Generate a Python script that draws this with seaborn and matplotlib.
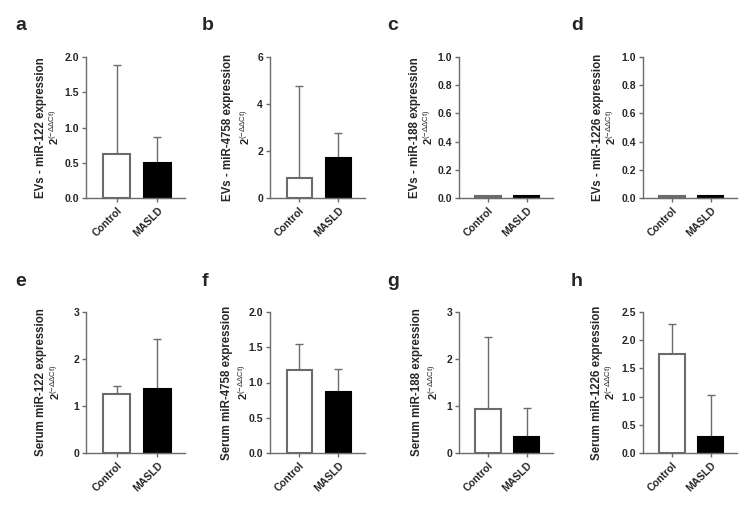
import numpy as np
import pandas as pd
import matplotlib
matplotlib.use('Agg')
import matplotlib.pyplot as plt
import seaborn as sns

sns.set_style('ticks')
plt.rcParams['font.family'] = ['Liberation Sans', 'DejaVu Sans']
plt.rcParams['mathtext.fontset'] = 'custom'
plt.rcParams['mathtext.rm'] = 'Liberation Sans'
plt.rcParams['mathtext.bf'] = 'Liberation Sans:bold'
plt.rcParams['hatch.color'] = '#6b6b6b'
plt.rcParams['hatch.linewidth'] = 0.8

# data (mean, upper error)
groups = ['Control', 'MASLD']
letters = ['a', 'b', 'c', 'd', 'e', 'f', 'g', 'h']
titles = ['EVs - miR-122 expression', 'EVs - miR-4758 expression',
          'EVs - miR-188 expression', 'EVs - miR-1226 expression',
          'Serum miR-122 expression', 'Serum miR-4758 expression',
          'Serum miR-188 expression', 'Serum miR-1226 expression']

ev122_mean = [0.63, 0.49]
ev122_err = [1.25, 0.37]
ev4758_mean = [0.85, 1.70]
ev4758_err = [3.92, 1.08]
ev188_mean = [0.015, 0.015]
ev188_err = [0.0, 0.0]
ev1226_mean = [0.015, 0.015]
ev1226_err = [0.0, 0.0]
se122_mean = [1.25, 1.36]
se122_err = [0.18, 1.06]
se4758_mean = [1.18, 0.86]
se4758_err = [0.37, 0.33]
se188_mean = [0.94, 0.33]
se188_err = [1.53, 0.63]
se1226_mean = [1.75, 0.28]
se1226_err = [0.54, 0.75]

means = [ev122_mean, ev4758_mean, ev188_mean, ev1226_mean,
         se122_mean, se4758_mean, se188_mean, se1226_mean]
errs = [ev122_err, ev4758_err, ev188_err, ev1226_err,
        se122_err, se4758_err, se188_err, se1226_err]
ymax = [2.0, 6, 1.0, 1.0, 3, 2.0, 3, 2.5]
ystep = [0.5, 2, 0.2, 0.2, 1, 0.5, 1, 0.5]
yfmt = ['%.1f', '%d', '%.1f', '%.1f', '%d', '%.1f', '%d', '%.1f']

W, H = 755, 513
grey = '#6b6b6b'
fig = plt.figure(figsize=(W / 100, H / 100), dpi=100)

lefts = [86, 270, 459, 643]
widths = [99, 95, 94, 94]
tops = [57, 312]
ax_h = 141
lab_off = [(-45, -32), (-42, -25), (-44, -31), (-45, -32),
           (-45, -31), (-43, -27), (-42, -26), (-46, -33)]
letter_x = [15, 202, 387, 571]
letter_y = [25, 282]

for i in range(8):
    r, c = divmod(i, 4)
    x0, w = lefts[c], widths[c]
    ax = fig.add_axes([x0 / W, 1 - (tops[r] + ax_h) / H, w / W, ax_h / H])
    df = pd.DataFrame({'group': groups, 'value': means[i]})
    sns.barplot(data=df, x='group', y='value', hue='group', order=groups,
                palette=['white', 'black'], width=0.65, errorbar=None,
                legend=False, ax=ax, zorder=2)
    for p, g in zip(ax.patches, groups):
        p.set_linewidth(1.5)
        p.set_edgecolor(grey if g == 'Control' else 'black')
        p.set_clip_on(False)
        if i in (2, 3) and g == 'Control':
            p.set_hatch('|||')
    ax.errorbar(range(2), means[i], yerr=[[0, 0], errs[i]], fmt='none',
                ecolor=grey, elinewidth=1, capsize=3, capthick=1, zorder=1)
    ax.set_xlim(-0.75, 1.68)
    ax.set_ylim(0, ymax[i])
    ticks = np.arange(0, ymax[i] + 1e-9, ystep[i])
    ax.set_yticks(ticks)
    ax.set_yticklabels([yfmt[i] % t for t in ticks], fontweight='bold', fontsize=7.5)
    ax.set_xticks(range(2))
    ax.set_xticklabels(groups, rotation=45, ha='right', rotation_mode='anchor',
                       fontweight='bold', fontsize=7.5)
    ax.set_xlabel('')
    ax.set_ylabel('')
    sns.despine(ax=ax)
    for s in ['left', 'bottom']:
        ax.spines[s].set_color(grey)
        ax.spines[s].set_linewidth(1)
    ax.tick_params(color=grey, length=3, width=1, pad=2)
    o1, o2 = lab_off[i]
    ax.text(o1 / w, 0.5, titles[i], transform=ax.transAxes, rotation=90,
            ha='center', va='center', fontsize=8.3, fontweight='bold')
    ax.text(o2 / w, 0.5, r'$\mathbf{2}^{\mathrm{(-\Delta\Delta Ct)}}$',
            transform=ax.transAxes, rotation=90, ha='center', va='center',
            fontsize=8)
    fig.text(letter_x[c] / W, 1 - letter_y[r] / H, letters[i],
             fontsize=14, fontweight='bold', ha='left', va='center')

fig.savefig('out.png', dpi=100)
